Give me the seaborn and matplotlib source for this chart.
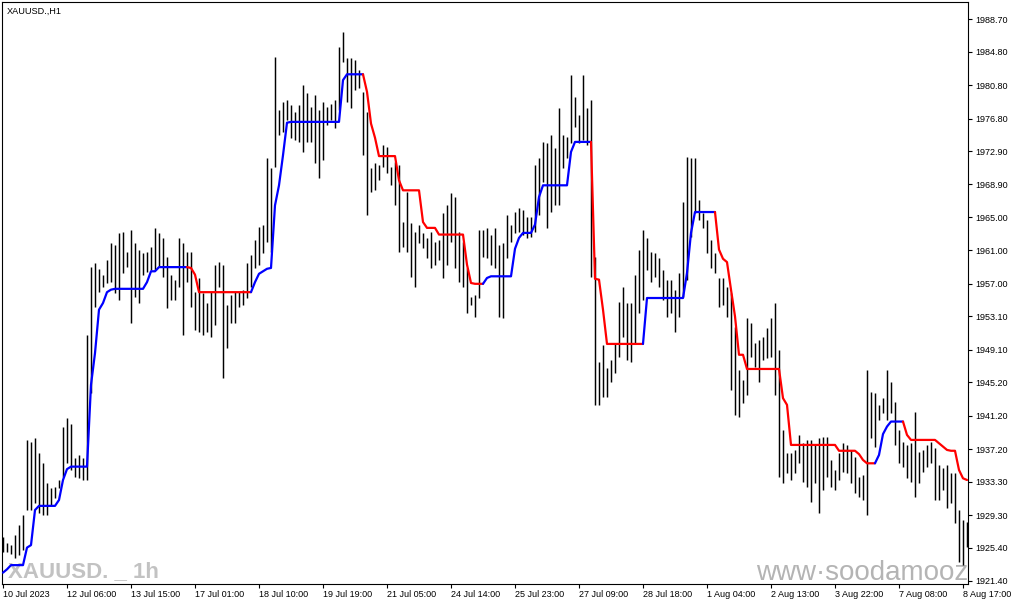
import matplotlib
matplotlib.use("Agg")
import matplotlib.pyplot as plt
import seaborn as sns
import numpy as np

symbol_label = "XAUUSD.,H1"
watermark_symbol = "XAUUSD. _ 1h"
watermark_site = "www·soodamooz"

time_labels = ["10 Jul 2023", "12 Jul 06:00", "13 Jul 15:00", "17 Jul 01:00",
               "18 Jul 10:00", "19 Jul 19:00", "21 Jul 05:00", "24 Jul 14:00",
               "25 Jul 23:00", "27 Jul 09:00", "28 Jul 18:00", "1 Aug 04:00",
               "2 Aug 13:00", "3 Aug 22:00", "7 Aug 08:00", "8 Aug 17:00"]

price_ticks = [1988.70, 1984.80, 1980.80, 1976.80, 1972.90, 1968.90, 1965.00,
               1961.00, 1957.00, 1953.10, 1949.10, 1945.20, 1941.20, 1937.20,
               1933.30, 1929.30, 1925.40, 1921.40]

highs = [
    1926.7, 1926.0, 1925.7, 1926.9, 1928.1, 1929.3, 1938.3, 1938.1, 1938.5, 1936.7,
    1935.5, 1933.1, 1932.5, 1932.7, 1933.5, 1939.9, 1940.9, 1940.2, 1936.1, 1936.5,
    1936.1, 1950.9, 1959.0, 1959.5, 1958.8, 1958.1, 1959.9, 1961.9, 1961.7, 1963.1,
    1963.2, 1960.8, 1963.5, 1961.9, 1961.1, 1960.7, 1960.8, 1961.4, 1963.7, 1963.1,
    1962.5, 1960.2, 1958.1, 1957.5, 1962.5, 1961.9, 1960.8, 1960.8, 1956.0, 1957.7,
    1955.9, 1954.7, 1956.0, 1959.3, 1959.6, 1959.3, 1954.5, 1955.7, 1956.0, 1956.0,
    1956.3, 1959.5, 1960.5, 1962.3, 1963.8, 1964.1, 1972.1, 1970.9, 1984.2, 1977.8,
    1978.8, 1979.0, 1978.4, 1977.6, 1978.4, 1980.8, 1979.9, 1978.2, 1979.6, 1977.8,
    1978.8, 1978.2, 1978.5, 1979.0, 1985.4, 1987.2, 1984.1, 1984.1, 1983.8, 1982.6,
    1980.0, 1977.6, 1970.9, 1971.5, 1971.2, 1973.6, 1973.4, 1971.0, 1971.6, 1971.2,
    1964.4, 1968.0, 1964.3, 1963.2, 1964.1, 1963.1, 1962.5, 1963.2, 1962.0, 1962.3,
    1965.5, 1966.4, 1967.9, 1967.4, 1963.2, 1962.0, 1958.9, 1955.4, 1955.7, 1963.5,
    1963.5, 1963.7, 1962.9, 1963.7, 1961.7, 1961.9, 1965.3, 1964.1, 1965.6, 1966.1,
    1965.9, 1965.0, 1965.0, 1971.2, 1972.1, 1974.0, 1973.9, 1974.8, 1973.3, 1978.1,
    1974.8, 1974.6, 1982.0, 1979.4, 1977.2, 1982.0, 1978.1, 1979.0, 1960.2, 1947.6,
    1949.7, 1946.9, 1947.9, 1949.9, 1954.8, 1956.6, 1954.7, 1954.7, 1958.1, 1961.1,
    1963.5, 1962.5, 1960.8, 1960.7, 1960.1, 1958.7, 1957.5, 1957.5, 1956.3, 1958.3,
    1966.8, 1972.2, 1972.1, 1972.1, 1967.0, 1965.5, 1964.6, 1962.3, 1960.7, 1957.7,
    1957.7, 1956.6, 1955.9, 1951.8, 1946.7, 1945.5, 1952.9, 1952.3, 1949.9, 1950.3,
    1950.6, 1951.7, 1952.9, 1954.7, 1949.1, 1939.5, 1936.7, 1936.7, 1937.1, 1938.9,
    1937.9, 1938.3, 1938.3, 1937.7, 1938.5, 1938.7, 1938.7, 1935.9, 1934.7, 1936.7,
    1937.9, 1937.7, 1937.1, 1936.3, 1933.9, 1934.1, 1946.7, 1944.0, 1943.9, 1942.5,
    1943.3, 1946.7, 1945.2, 1942.8, 1939.5, 1938.1, 1937.7, 1937.9, 1941.6, 1936.9,
    1937.1, 1937.7, 1938.1, 1937.3, 1935.3, 1934.9, 1935.3, 1934.3, 1934.3, 1929.9,
    1928.7, 1928.5]

lows = [
    1924.9, 1924.9, 1924.6, 1924.2, 1924.5, 1925.1, 1929.9, 1929.9, 1930.7, 1929.5,
    1929.3, 1929.3, 1930.5, 1931.3, 1932.5, 1933.9, 1935.5, 1934.7, 1933.9, 1933.7,
    1933.5, 1933.5, 1943.9, 1954.2, 1956.0, 1956.6, 1957.1, 1957.2, 1955.9, 1955.1,
    1958.3, 1959.0, 1952.3, 1955.4, 1954.7, 1958.1, 1958.4, 1958.7, 1958.7, 1959.0,
    1957.8, 1954.1, 1955.1, 1955.1, 1956.6, 1950.9, 1957.2, 1954.2, 1951.5, 1951.2,
    1950.9, 1951.2, 1950.6, 1952.1, 1956.6, 1945.7, 1949.3, 1952.3, 1952.3, 1954.2,
    1954.5, 1955.3, 1956.6, 1958.9, 1959.3, 1960.7, 1962.0, 1960.8, 1971.0, 1974.8,
    1975.2, 1976.6, 1974.5, 1974.2, 1974.0, 1972.8, 1974.0, 1974.0, 1971.5, 1969.7,
    1971.8, 1976.0, 1976.6, 1975.7, 1977.8, 1983.6, 1978.8, 1978.1, 1980.2, 1980.5,
    1972.4, 1965.3, 1968.0, 1968.2, 1969.4, 1971.0, 1970.3, 1968.8, 1966.4, 1960.8,
    1961.4, 1960.8, 1957.8, 1956.6, 1961.9, 1961.3, 1960.1, 1958.9, 1959.3, 1959.9,
    1957.7, 1959.3, 1962.0, 1958.9, 1957.2, 1956.6, 1953.5, 1954.5, 1953.0, 1955.3,
    1960.2, 1960.1, 1959.3, 1958.9, 1953.0, 1952.9, 1960.1, 1962.0, 1963.1, 1963.2,
    1962.9, 1962.5, 1962.6, 1963.2, 1965.3, 1969.2, 1963.7, 1965.6, 1966.4, 1966.4,
    1970.9, 1972.1, 1973.9, 1975.8, 1973.9, 1974.2, 1973.6, 1957.8, 1942.5, 1942.5,
    1943.4, 1943.4, 1945.2, 1946.3, 1948.2, 1950.6, 1947.9, 1947.6, 1949.9, 1953.5,
    1955.1, 1958.7, 1957.2, 1957.8, 1956.6, 1955.1, 1953.0, 1953.5, 1951.2, 1953.0,
    1955.4, 1957.5, 1962.6, 1965.5, 1964.6, 1963.7, 1960.7, 1958.9, 1958.3, 1954.2,
    1954.5, 1953.0, 1944.3, 1941.3, 1941.1, 1942.7, 1943.7, 1948.2, 1947.0, 1945.2,
    1947.9, 1948.1, 1948.2, 1943.7, 1933.9, 1933.1, 1934.3, 1933.5, 1934.3, 1935.5,
    1933.3, 1932.7, 1930.9, 1933.1, 1929.5, 1932.3, 1933.9, 1932.7, 1932.3, 1933.5,
    1934.5, 1934.3, 1933.1, 1931.9, 1931.5, 1931.1, 1929.3, 1938.5, 1937.5, 1940.7,
    1941.5, 1940.7, 1941.5, 1937.7, 1935.5, 1935.1, 1933.7, 1933.3, 1931.5, 1933.1,
    1934.5, 1935.1, 1935.5, 1931.1, 1931.1, 1932.3, 1930.2, 1930.7, 1928.4, 1923.7,
    1923.3, 1925.5]

signal_line = [
    1922.4, 1922.8, 1923.3, 1923.3, 1923.3, 1923.3, 1925.4, 1925.7, 1929.9, 1930.4,
    1930.4, 1930.4, 1930.4, 1930.4, 1931.1, 1933.5, 1934.8, 1935.1, 1935.1, 1935.1,
    1935.1, 1935.1, 1944.9, 1948.7, 1953.9, 1954.7, 1956.0, 1956.3, 1956.4, 1956.4,
    1956.4, 1956.4, 1956.4, 1956.4, 1956.4, 1956.4, 1957.2, 1958.5, 1958.5, 1959.0,
    1959.0, 1959.0, 1959.0, 1959.0, 1959.0, 1959.0, 1959.0, 1958.9, 1958.1, 1956.0,
    1956.0, 1956.0, 1956.0, 1956.0, 1956.0, 1956.0, 1956.0, 1956.0, 1956.0, 1956.0,
    1956.0, 1956.0, 1956.0, 1957.2, 1958.2, 1958.5, 1958.8, 1958.9, 1966.4, 1968.8,
    1972.4, 1976.3, 1976.4, 1976.4, 1976.4, 1976.4, 1976.4, 1976.4, 1976.4, 1976.4,
    1976.4, 1976.4, 1976.4, 1976.4, 1976.4, 1981.4, 1982.1, 1982.1, 1982.1, 1982.1,
    1982.1, 1980.0, 1976.2, 1974.5, 1972.3, 1972.3, 1972.3, 1972.3, 1972.3, 1969.4,
    1968.2, 1968.2, 1968.2, 1968.2, 1968.2, 1964.4, 1963.7, 1963.7, 1963.7, 1962.9,
    1962.9, 1962.9, 1962.9, 1962.9, 1962.9, 1962.9, 1959.3, 1957.1, 1957.0, 1957.0,
    1957.0, 1957.7, 1957.9, 1957.9, 1957.9, 1957.9, 1957.9, 1957.9, 1961.2, 1962.5,
    1963.1, 1963.1, 1963.1, 1964.1, 1967.4, 1968.8, 1968.8, 1968.8, 1968.8, 1968.8,
    1968.8, 1968.8, 1972.8, 1974.0, 1974.0, 1974.0, 1974.0, 1974.0, 1957.6, 1957.5,
    1953.9, 1949.8, 1949.8, 1949.8, 1949.8, 1949.8, 1949.8, 1949.8, 1949.8, 1949.8,
    1949.8, 1955.3, 1955.3, 1955.3, 1955.3, 1955.3, 1955.3, 1955.3, 1955.3, 1955.3,
    1955.3, 1958.3, 1963.1, 1965.6, 1965.6, 1965.6, 1965.6, 1965.6, 1965.6, 1961.1,
    1960.0, 1959.6, 1956.3, 1953.1, 1948.5, 1948.5, 1946.8, 1946.8, 1946.8, 1946.8,
    1946.8, 1946.8, 1946.8, 1946.8, 1946.8, 1943.3, 1942.5, 1937.7, 1937.7, 1937.7,
    1937.7, 1937.7, 1937.7, 1937.7, 1937.7, 1937.7, 1937.7, 1937.7, 1937.7, 1937.0,
    1937.0, 1937.0, 1937.0, 1937.0, 1936.6, 1935.9, 1935.5, 1935.5, 1935.5, 1936.5,
    1939.0, 1939.9, 1940.5, 1940.5, 1940.5, 1940.5, 1938.9, 1938.3, 1938.3, 1938.3,
    1938.3, 1938.3, 1938.3, 1938.3, 1937.9, 1937.5, 1937.1, 1937.0, 1937.0, 1934.7,
    1933.7, 1933.5]

sns.set_theme(style="white")
plt.rcParams['font.family'] = ['Liberation Sans', 'DejaVu Sans']

W, H = 1015, 605
fig = plt.figure(figsize=(W / 100, H / 100), dpi=100)
fig.patch.set_facecolor("white")
ax = fig.add_axes([2 / W, (H - 584) / H, (968 - 2) / W, (584 - 2) / H])
ax.set_facecolor("white")

n = len(highs)
idx = np.arange(n)

# price bars
ax.vlines(idx, lows, highs, color="black", linewidth=1.05, zorder=3)

# stepped signal line, blue while rising, red while falling
sig = np.array(signal_line)
diffs = np.diff(sig)
trend = []
cur = 1
for v in diffs:
    if v > 0:
        cur = 1
    elif v < 0:
        cur = -1
    trend.append(cur)
runs = []
start = 0
for k in range(1, len(trend)):
    if trend[k] != trend[start]:
        runs.append((start, k, trend[start]))
        start = k
runs.append((start, len(trend), trend[start]))
for s, e, t in runs:
    sns.lineplot(x=idx[s:e + 1], y=sig[s:e + 1],
                 color="#0000ff" if t > 0 else "#ff0000",
                 linewidth=1.6, ax=ax, zorder=4, sort=False, estimator=None)

ax.set_xlim(-0.25, 241.25)
ax.set_ylim(1921.04, 1990.76)

ax.yaxis.tick_right()
ax.set_yticks(price_ticks)
ax.set_yticklabels([f"{v:.2f}" for v in price_ticks])
ax.tick_params(axis="y", which="both", direction="out", length=3, width=0.8,
               pad=2.5, labelsize=6.5, colors="black", right=True, left=False)

ax.set_xticks(idx[::16])
ax.set_xticklabels(time_labels, ha="left")
ax.tick_params(axis="x", which="both", direction="out", length=3, width=0.8,
               pad=1.5, labelsize=6.5, colors="black", bottom=True)
ax.set_xlabel("")
ax.set_ylabel("")
ax.grid(False)
for sp in ax.spines.values():
    sp.set_visible(True)
    sp.set_color("black")
    sp.set_linewidth(0.8)

fig.text(7 / W, 1 - 11 / H, symbol_label, ha="left", va="center",
         fontsize=6.6, color="black")

ax.text(8 / W, 1 - 577 / H, watermark_symbol, transform=fig.transFigure,
        ha="left", va="baseline", fontsize=16, fontweight="bold",
        color="#c2c2c2", zorder=1, clip_on=True)
ax.text(756 / W, 1 - 580 / H, watermark_site, transform=fig.transFigure,
        ha="left", va="baseline", fontsize=20, color="#b4b4b4",
        zorder=1, clip_on=True)

fig.savefig("out.png", dpi=100, facecolor="white")
